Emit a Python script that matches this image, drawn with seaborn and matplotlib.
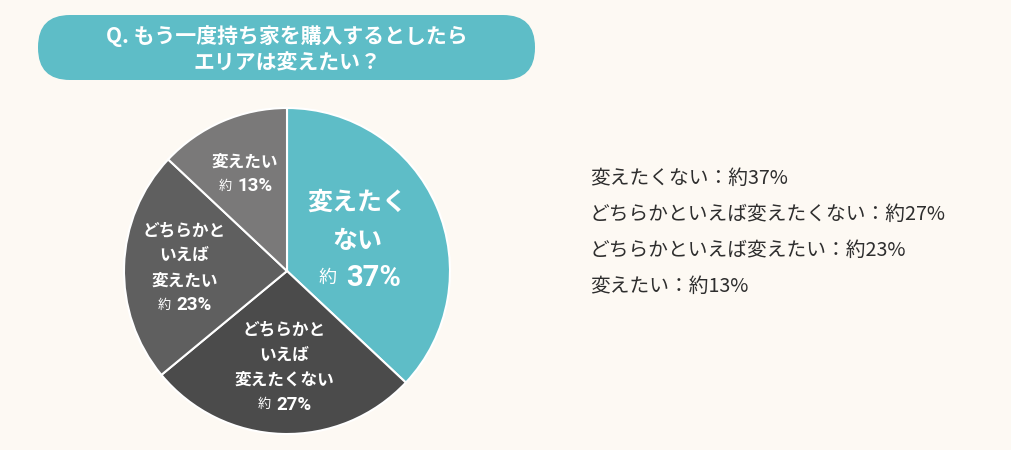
import numpy as np
import seaborn as sns
import matplotlib.pyplot as plt
from matplotlib.patches import FancyBboxPatch

# data
categories = ["変えたくない", "どちらかといえば変えたくない", "どちらかといえば変えたい", "変えたい"]
slice_names = ["変えたく\nない", "どちらかと\nいえば\n変えたくない", "どちらかと\nいえば\n変えたい", "変えたい"]
shares = [37, 27, 23, 13]
title_text = "Q. もう一度持ち家を購入するとしたら\nエリアは変えたい？"

colors = ["#5EBDC7", "#4B4B4B", "#5F5F5F", "#7A7979"]
bg = "#FDF9F3"

sns.set_theme(style="white")
plt.rcParams['font.family'] = ['Noto Sans CJK JP', 'DejaVu Sans']

fig = plt.figure(figsize=(10.12, 4.5), dpi=100, facecolor=bg)

# background layer in pixel coords
bgax = fig.add_axes([0, 0, 1, 1])
bgax.set_xlim(0, 1012)
bgax.set_ylim(450, 0)
bgax.axis("off")
bgax.add_patch(FancyBboxPatch((38, 15), 497, 65, boxstyle="round,pad=0,rounding_size=32",
                              facecolor="#5EBDC7", edgecolor="none"))
bgax.text(287, 49, title_text, ha="center", va="center", color="white",
          fontsize=15, fontweight="bold", linespacing=1.3)

# legend text at right
for i, (c, s) in enumerate(zip(categories, shares)):
    bgax.text(590, 178 + 36 * i, f"{c}：約{s}%", ha="left", va="center",
              color="#2E2E2E", fontsize=14.2)

# pie
cx, cy, r = 287, 271, 163
ax = fig.add_axes([(cx - r) / 1012, (450 - cy - r) / 450, 2 * r / 1012, 2 * r / 450])
wedges, _ = ax.pie(shares, colors=colors, startangle=90, counterclock=False, radius=1,
                   wedgeprops=dict(edgecolor="white", linewidth=1.5))
ax.set_xlim(-1, 1)
ax.set_ylim(-1, 1)
ax.set_aspect("equal")
ax.axis("off")

label_r = [0.47, 0.59, 0.63, 0.65]
name_size = [18, 12, 12, 12]
pct_size = [21, 13.5, 13.5, 13.5]
yaku_size = [13, 9.5, 9.5, 9.5]
for w, name, s, lr, ns, ps, ys in zip(wedges, slice_names, shares, label_r, name_size, pct_size, yaku_size):
    ang = np.deg2rad((w.theta1 + w.theta2) / 2)
    x, y = lr * np.cos(ang), lr * np.sin(ang)
    lines = name.split("\n")
    step = ns * 1.5
    mid = len(lines) / 2  # rows are lines + percent row
    for i, line in enumerate(lines):
        ax.annotate(line, (x, y), xytext=(0, (mid - i) * step), textcoords="offset points",
                    ha="center", va="center", color="white", fontsize=ns, fontweight="bold")
    yrow = (mid - len(lines)) * step
    shift = -ps * 0.55
    gap = ps * 0.15
    ax.annotate("約", (x, y), xytext=(shift - gap, yrow), textcoords="offset points",
                ha="right", va="center", color="white", fontsize=ys)
    ax.annotate(f"{s}%", (x, y), xytext=(shift + gap, yrow), textcoords="offset points",
                ha="left", va="center", color="white", fontsize=ps, fontweight="bold",
                family=["Roboto", "DejaVu Sans"])

fig.savefig("out.png", dpi=100, facecolor=bg)
